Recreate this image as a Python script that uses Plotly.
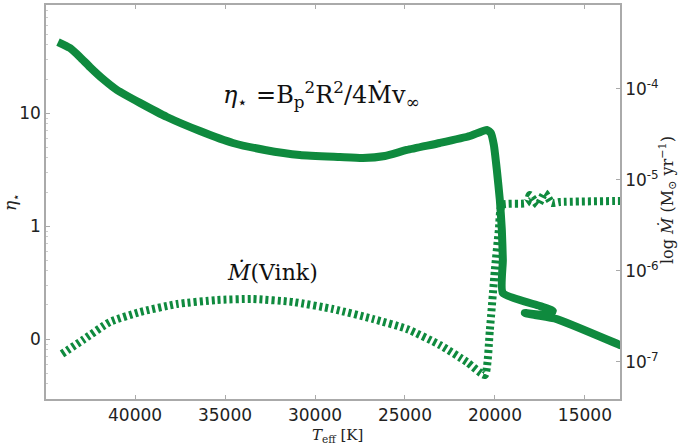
import plotly.graph_objects as go

# eta_star curve (left axis)
teff_eta = [44283, 43617, 43061, 42506, 41783, 41006, 39728, 38228, 36394, 34561,
            32783, 30839, 28617, 27339, 26116, 24894, 23061, 21394, 20450, 20228,
            20061, 19894, 19728, 19617, 19561, 19561, 17503, 16783, 17061, 18339,
            17783, 16561, 13061, 11950]
eta_star = [42.5, 37.6, 31.3, 25.5, 20.0, 16.0, 12.3, 9.22, 6.93, 5.43,
            4.71, 4.25, 4.08, 4.00, 4.17, 4.71, 5.43, 6.26, 7.08, 6.66,
            5.21, 3.13, 1.70, 0.922, 0.500, 0.2555, 0.196, 0.177, 0.163, 0.170,
            0.163, 0.150, 0.0886, 0.0752]

# Mdot (Vink) curve (right axis)
teff_mdot = [44061, 42894, 41394, 39728, 37672, 35450, 33450, 31228, 29006, 26783,
             24894, 23061, 21561, 20561, 20283, 20006, 19783, 19617, 18228, 18061,
             17617, 17228, 16839, 16395, 13061, 11950]
mdot = [1.225e-7, 1.746e-7, 2.754e-7, 3.540e-7, 4.335e-7, 4.797e-7, 4.920e-7, 4.560e-7,
        3.819e-7, 2.965e-7, 2.307e-7, 1.538e-7, 1.0e-7, 7.19e-8, 2.249e-7, 1.026e-6,
        2.818e-6, 5.309e-6, 5.585e-6, 6.839e-6, 5.309e-6, 7.194e-6, 5.585e-6, 5.728e-6,
        5.875e-6, 5.875e-6]

x_ticks = [40000, 35000, 30000, 25000, 20000, 15000]
x_ticktext = ["40000", "35000", "30000", "25000", "20000", "15000"]
eta_ticks = [0.1, 1, 10]
eta_ticktext = ["0", "1", "10"]
mdot_ticks = [1e-7, 1e-6, 1e-5, 1e-4]
mdot_ticktext = ["10<sup>-7</sup>", "10<sup>-6</sup>", "10<sup>-5</sup>", "10<sup>-4</sup>"]

GREEN = "#0f8a3e"
SPINE = "#aaaaaa"
TICKFONT = dict(family="DejaVu Sans", size=17, color="#222222")
SERIF = "DejaVu Serif"

fig = go.Figure()
fig.add_trace(go.Scatter(x=teff_eta, y=eta_star, mode="lines", yaxis="y",
                         line=dict(color=GREEN, width=8, shape="spline", smoothing=0.5),
                         showlegend=False))
fig.add_trace(go.Scatter(x=teff_mdot, y=mdot, mode="lines", yaxis="y2",
                         line=dict(color=GREEN, width=8, dash="3px,3px", shape="spline", smoothing=0.5),
                         showlegend=False))

minor_eta = [0.03, 0.04, 0.05, 0.06, 0.07, 0.08, 0.09, 0.2, 0.3, 0.4, 0.5, 0.6, 0.7, 0.8, 0.9,
             2, 3, 4, 5, 6, 7, 8, 9, 20, 30, 40, 50, 60, 70, 80, 90]

fig.update_layout(
    width=680, height=444,
    margin=dict(l=46, r=60, t=5, b=45, autoexpand=False),
    paper_bgcolor="white", plot_bgcolor="white",
    xaxis=dict(range=[44950, 13050], tickvals=x_ticks, ticktext=x_ticktext, ticks="inside", ticklen=4,
               tickcolor=SPINE, showline=True, linecolor=SPINE, linewidth=1.5, mirror="ticks",
               showgrid=False, zeroline=False, tickfont=TICKFONT, automargin=False, ticklabelstandoff=0),
    yaxis=dict(type="log", range=[-1.531, 1.956], tickvals=eta_ticks, ticktext=eta_ticktext,
               ticks="inside", ticklen=4, tickcolor=SPINE, showline=True, linecolor=SPINE,
               linewidth=1.5, showgrid=False, zeroline=False, tickfont=TICKFONT, automargin=False,
               minor=dict(tickvals=minor_eta, ticks="inside", ticklen=2, tickcolor="#cccccc")),
    yaxis2=dict(type="log", range=[-7.407, -3.077], overlaying="y", side="right",
                tickvals=mdot_ticks, ticktext=mdot_ticktext, ticks="inside", ticklen=4,
                tickcolor=SPINE, showline=True, linecolor=SPINE, linewidth=1.5,
                showgrid=False, zeroline=False, tickfont=TICKFONT, automargin=False),
)

C = dict(xanchor="center", yanchor="middle", showarrow=False, xref="paper", yref="paper")
# axis titles
fig.add_annotation(x=0.508, y=-0.093, text="<i>T</i><sub>eff</sub> [K]",
                   font=dict(family=SERIF, size=15, color="#222"), **C)
fig.add_annotation(x=-0.061, y=0.5, textangle=-90, text="<i>η</i><sub>⋆</sub>",
                   font=dict(family=SERIF, size=17, color="#222"), **C)
fig.add_annotation(x=1.082, y=0.505, textangle=-90,
                   text="log <i>Ṁ</i> (M<sub>⊙</sub> yr<sup>−1</sup>)",
                   font=dict(family=SERIF, size=16, color="#222"), **C)

# in-plot labels
fig.add_annotation(x=0.479, y=0.772,
                   text="<i>η</i><sub>⋆</sub> =B<sub>p</sub><sup>2</sup>R<sup>2</sup>/4Ṁv<sub>∞</sub>",
                   font=dict(family=SERIF, size=24, color="#111"), **C)
fig.add_annotation(x=0.394, y=0.322, text="<i>Ṁ</i>(Vink)",
                   font=dict(family=SERIF, size=22, color="#111"), **C)

fig.write_html("out.html", post_script="document.body.style.margin='0';",
               config={"displayModeBar": False})
